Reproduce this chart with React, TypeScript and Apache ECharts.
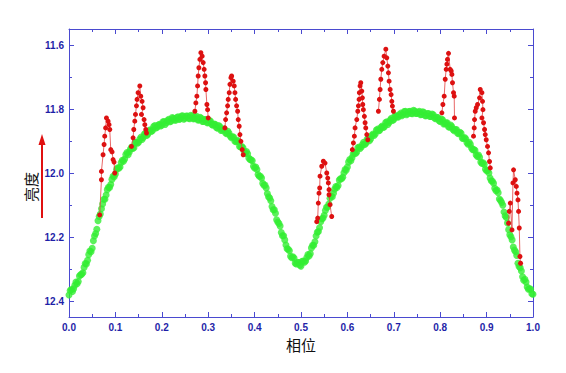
import React, { useEffect, useRef } from "react";
import * as echarts from "echarts";

const X_MIN = 0;
const X_MAX = 1;
const Y_MIN = 11.55;
const Y_MAX = 12.45;
const Y_MAJOR = [11.6, 11.8, 12.0, 12.2, 12.4];
const Y_MINOR = [11.7, 11.9, 12.1, 12.3];
const X_LABEL = "相位";
const Y_LABEL = "亮度";

// Quiescent light curve (green), phase / magnitude — first set of nights
const GREEN_A: [number, number][] = [
  [0.000, 12.381], [0.005, 12.364], [0.010, 12.362], [0.015, 12.341], [0.020, 12.339],
  [0.025, 12.318], [0.030, 12.312], [0.035, 12.283], [0.040, 12.273], [0.045, 12.244],
  [0.050, 12.235], [0.055, 12.197], [0.060, 12.176], [0.065, 12.136], [0.070, 12.112],
  [0.075, 12.082], [0.080, 12.069], [0.085, 12.045], [0.090, 12.036], [0.095, 12.010],
  [0.100, 12.003], [0.105, 11.984], [0.110, 11.981], [0.115, 11.960], [0.120, 11.956],
  [0.125, 11.936], [0.130, 11.934], [0.135, 11.919], [0.140, 11.921], [0.145, 11.904],
  [0.150, 11.904], [0.155, 11.888], [0.160, 11.889], [0.165, 11.876], [0.170, 11.879],
  [0.175, 11.865], [0.180, 11.867], [0.185, 11.852], [0.190, 11.857], [0.195, 11.848],
  [0.200, 11.851], [0.205, 11.839], [0.210, 11.843], [0.215, 11.832], [0.220, 11.838],
  [0.225, 11.829], [0.230, 11.835], [0.235, 11.824], [0.240, 11.830], [0.245, 11.821],
  [0.250, 11.829], [0.255, 11.822], [0.260, 11.830], [0.265, 11.822], [0.270, 11.830],
  [0.275, 11.823], [0.280, 11.834], [0.285, 11.829], [0.290, 11.839], [0.295, 11.833],
  [0.300, 11.843], [0.305, 11.838], [0.310, 11.851], [0.315, 11.848], [0.320, 11.860],
  [0.325, 11.855], [0.330, 11.866], [0.335, 11.863], [0.340, 11.877], [0.345, 11.876],
  [0.350, 11.890], [0.355, 11.888], [0.360, 11.902], [0.365, 11.902], [0.370, 11.919],
  [0.375, 11.921], [0.380, 11.939], [0.385, 11.940], [0.390, 11.958], [0.395, 11.962],
  [0.400, 11.984], [0.405, 11.989], [0.410, 12.010], [0.415, 12.016], [0.420, 12.038],
  [0.425, 12.047], [0.430, 12.074], [0.435, 12.087], [0.440, 12.115], [0.445, 12.126],
  [0.450, 12.153], [0.455, 12.166], [0.460, 12.196], [0.465, 12.209], [0.470, 12.237],
  [0.475, 12.243], [0.480, 12.265], [0.485, 12.266], [0.490, 12.284], [0.495, 12.280],
  [0.500, 12.291], [0.505, 12.275], [0.510, 12.275], [0.515, 12.255], [0.520, 12.252],
  [0.525, 12.226], [0.530, 12.215], [0.535, 12.185], [0.540, 12.171], [0.545, 12.143],
  [0.550, 12.132], [0.555, 12.107], [0.560, 12.097], [0.565, 12.072], [0.570, 12.063],
  [0.575, 12.042], [0.580, 12.039], [0.585, 12.018], [0.590, 12.013], [0.595, 11.989],
  [0.600, 11.981], [0.605, 11.958], [0.610, 11.952], [0.615, 11.936], [0.620, 11.935],
  [0.625, 11.919], [0.630, 11.919], [0.635, 11.904], [0.640, 11.907], [0.645, 11.893],
  [0.650, 11.894], [0.655, 11.878], [0.660, 11.878], [0.665, 11.863], [0.670, 11.866],
  [0.675, 11.853], [0.680, 11.855], [0.685, 11.840], [0.690, 11.842], [0.695, 11.829],
  [0.700, 11.833], [0.705, 11.821], [0.710, 11.825], [0.715, 11.813], [0.720, 11.817],
  [0.725, 11.807], [0.730, 11.815], [0.735, 11.807], [0.740, 11.815], [0.745, 11.806],
  [0.750, 11.814], [0.755, 11.807], [0.760, 11.817], [0.765, 11.811], [0.770, 11.821],
  [0.775, 11.814], [0.780, 11.823], [0.785, 11.818], [0.790, 11.830], [0.795, 11.827],
  [0.800, 11.839], [0.805, 11.834], [0.810, 11.846], [0.815, 11.843], [0.820, 11.857],
  [0.825, 11.855], [0.830, 11.868], [0.835, 11.864], [0.840, 11.877], [0.845, 11.876],
  [0.850, 11.892], [0.855, 11.893], [0.860, 11.910], [0.865, 11.910], [0.870, 11.927],
  [0.875, 11.929], [0.880, 11.948], [0.885, 11.951], [0.890, 11.970], [0.895, 11.973],
  [0.900, 11.993], [0.905, 12.000], [0.910, 12.024], [0.915, 12.032], [0.920, 12.055],
  [0.925, 12.062], [0.930, 12.086], [0.935, 12.101], [0.940, 12.134], [0.945, 12.156],
  [0.950, 12.193], [0.955, 12.209], [0.960, 12.241], [0.965, 12.258], [0.970, 12.292],
  [0.975, 12.306], [0.980, 12.335], [0.985, 12.341], [0.990, 12.363], [0.995, 12.363],
  [1.000, 12.379],
];

// Quiescent light curve (green) — second set of nights
const GREEN_B: [number, number][] = [
  [0.0025, 12.367], [0.0075, 12.370], [0.0125, 12.351], [0.0175, 12.346], [0.0225, 12.322],
  [0.0275, 12.316], [0.0325, 12.295], [0.0375, 12.284], [0.0425, 12.255], [0.0475, 12.246],
  [0.0525, 12.212], [0.0575, 12.189], [0.0625, 12.149], [0.0675, 12.128], [0.0725, 12.097],
  [0.0775, 12.082], [0.0825, 12.052], [0.0875, 12.045], [0.0925, 12.020], [0.0975, 12.012],
  [0.1025, 11.988], [0.1075, 11.985], [0.1125, 11.967], [0.1175, 11.963], [0.1225, 11.942],
  [0.1275, 11.943], [0.1325, 11.925], [0.1375, 11.923], [0.1425, 11.905], [0.1475, 11.907],
  [0.1525, 11.895], [0.1575, 11.895], [0.1625, 11.878], [0.1675, 11.883], [0.1725, 11.868],
  [0.1775, 11.870], [0.1825, 11.855], [0.1875, 11.859], [0.1925, 11.850], [0.1975, 11.853],
  [0.2025, 11.840], [0.2075, 11.848], [0.2125, 11.836], [0.2175, 11.840], [0.2225, 11.827],
  [0.2275, 11.834], [0.2325, 11.827], [0.2375, 11.833], [0.2425, 11.822], [0.2475, 11.832],
  [0.2525, 11.822], [0.2575, 11.829], [0.2625, 11.820], [0.2675, 11.830], [0.2725, 11.826],
  [0.2775, 11.834], [0.2825, 11.826], [0.2875, 11.839], [0.2925, 11.833], [0.2975, 11.843],
  [0.3025, 11.836], [0.3075, 11.848], [0.3125, 11.847], [0.3175, 11.858], [0.3225, 11.852],
  [0.3275, 11.867], [0.3325, 11.863], [0.3375, 11.875], [0.3425, 11.870], [0.3475, 11.885],
  [0.3525, 11.887], [0.3575, 11.901], [0.3625, 11.898], [0.3675, 11.917], [0.3725, 11.917],
  [0.3775, 11.933], [0.3825, 11.933], [0.3875, 11.953], [0.3925, 11.959], [0.3975, 11.979],
  [0.4025, 11.981], [0.4075, 12.005], [0.4125, 12.010], [0.4175, 12.032], [0.4225, 12.038],
  [0.4275, 12.064], [0.4325, 12.078], [0.4375, 12.105], [0.4425, 12.115], [0.4475, 12.146],
  [0.4525, 12.158], [0.4575, 12.186], [0.4625, 12.196], [0.4675, 12.225], [0.4725, 12.238],
  [0.4775, 12.260], [0.4825, 12.262], [0.4875, 12.282], [0.4925, 12.279], [0.4975, 12.288],
  [0.5025, 12.276], [0.5075, 12.279], [0.5125, 12.264], [0.5175, 12.259], [0.5225, 12.234],
  [0.5275, 12.226], [0.5325, 12.197], [0.5375, 12.183], [0.5425, 12.152], [0.5475, 12.141],
  [0.5525, 12.117], [0.5575, 12.106], [0.5625, 12.079], [0.5675, 12.074], [0.5725, 12.051],
  [0.5775, 12.045], [0.5825, 12.022], [0.5875, 12.018], [0.5925, 11.999], [0.5975, 11.991],
  [0.6025, 11.966], [0.6075, 11.962], [0.6125, 11.941], [0.6175, 11.939], [0.6225, 11.921],
  [0.6275, 11.923], [0.6325, 11.911], [0.6375, 11.911], [0.6425, 11.895], [0.6475, 11.899],
  [0.6525, 11.883], [0.6575, 11.883], [0.6625, 11.866], [0.6675, 11.868], [0.6725, 11.857],
  [0.6775, 11.858], [0.6825, 11.842], [0.6875, 11.848], [0.6925, 11.834], [0.6975, 11.836],
  [0.7025, 11.821], [0.7075, 11.825], [0.7125, 11.817], [0.7175, 11.821], [0.7225, 11.808],
  [0.7275, 11.818], [0.7325, 11.808], [0.7375, 11.814], [0.7425, 11.804], [0.7475, 11.814],
  [0.7525, 11.810], [0.7575, 11.818], [0.7625, 11.809], [0.7675, 11.821], [0.7725, 11.814],
  [0.7775, 11.823], [0.7825, 11.816], [0.7875, 11.828], [0.7925, 11.826], [0.7975, 11.837],
  [0.8025, 11.831], [0.8075, 11.847], [0.8125, 11.843], [0.8175, 11.855], [0.8225, 11.850],
  [0.8275, 11.864], [0.8325, 11.864], [0.8375, 11.876], [0.8425, 11.873], [0.8475, 11.891],
  [0.8525, 11.889], [0.8575, 11.905], [0.8625, 11.904], [0.8675, 11.922], [0.8725, 11.927],
  [0.8775, 11.944], [0.8825, 11.944], [0.8875, 11.966], [0.8925, 11.968], [0.8975, 11.988],
  [0.9025, 11.992], [0.9075, 12.016], [0.9125, 12.026], [0.9175, 12.048], [0.9225, 12.053],
  [0.9275, 12.081], [0.9325, 12.092], [0.9375, 12.122], [0.9425, 12.139], [0.9475, 12.177],
  [0.9525, 12.199], [0.9575, 12.231], [0.9625, 12.246], [0.9675, 12.282], [0.9725, 12.296],
  [0.9775, 12.324], [0.9825, 12.332], [0.9875, 12.356], [0.9925, 12.362], [0.9975, 12.377],
];

// Flare events (red), each one a connected run of points
const FLARE_1: [number, number][] = [
  [0.0662, 12.131], [0.0699, 12.021], [0.0699, 11.995], [0.0734, 11.943], [0.0756, 11.911],
  [0.077, 11.885], [0.079, 11.859], [0.0807, 11.828], [0.0842, 11.838], [0.0863, 11.849],
  [0.0878, 11.864], [0.09, 11.927], [0.0928, 11.934], [0.095, 11.958], [0.0971, 11.966],
  [0.0986, 12.0],
];
const FLARE_2: [number, number][] = [
  [0.1346, 11.917], [0.1381, 11.89], [0.1396, 11.864], [0.1418, 11.838], [0.1433, 11.817],
  [0.1454, 11.79], [0.1467, 11.77], [0.1489, 11.749], [0.1526, 11.728], [0.1547, 11.76],
  [0.1575, 11.776], [0.1597, 11.796], [0.1562, 11.817], [0.1618, 11.833], [0.1634, 11.849],
  [0.1655, 11.864], [0.167, 11.875],
];
const FLARE_3: [number, number][] = [
  [0.2713, 11.807], [0.2734, 11.781], [0.2756, 11.76], [0.2771, 11.728], [0.2784, 11.697],
  [0.2799, 11.671], [0.2821, 11.645], [0.2842, 11.624], [0.287, 11.635], [0.2892, 11.655],
  [0.2913, 11.676], [0.2928, 11.697], [0.2943, 11.718], [0.295, 11.739], [0.2972, 11.786],
  [0.2987, 11.802], [0.3, 11.828],
];
const FLARE_4: [number, number][] = [
  [0.336, 11.859], [0.3375, 11.833], [0.3397, 11.812], [0.3418, 11.79], [0.3431, 11.77],
  [0.3453, 11.749], [0.3468, 11.723], [0.349, 11.702], [0.3505, 11.697], [0.3539, 11.713],
  [0.3561, 11.728], [0.3576, 11.749], [0.3591, 11.77], [0.3612, 11.79], [0.3634, 11.807],
  [0.3647, 11.833], [0.3668, 11.854], [0.3684, 11.88], [0.3705, 11.901], [0.3733, 11.927],
  [0.3755, 11.943],
];
const FLARE_5: [number, number][] = [
  [0.5339, 12.152], [0.536, 12.141], [0.5373, 12.094], [0.5388, 12.063], [0.5403, 12.047],
  [0.541, 12.01], [0.5447, 11.979], [0.5481, 11.963], [0.5518, 11.969], [0.5555, 12.0],
  [0.5576, 12.016], [0.5589, 12.031], [0.5604, 12.052], [0.5604, 12.068], [0.5626, 12.099],
  [0.5662, 12.136],
];
const FLARE_6: [number, number][] = [
  [0.6107, 11.927], [0.6129, 11.906], [0.615, 11.885], [0.6165, 11.859], [0.6202, 11.833],
  [0.6224, 11.807], [0.6237, 11.79], [0.6252, 11.77], [0.6258, 11.749], [0.6273, 11.728],
  [0.6288, 11.718], [0.631, 11.744], [0.6323, 11.765], [0.6331, 11.786], [0.6344, 11.802],
  [0.6366, 11.823], [0.6381, 11.843], [0.6396, 11.859], [0.6418, 11.88], [0.6439, 11.896],
];
const FLARE_7: [number, number][] = [
  [0.6668, 11.807], [0.669, 11.77], [0.6705, 11.739], [0.672, 11.707], [0.6741, 11.676],
  [0.6763, 11.655], [0.6791, 11.635], [0.6828, 11.613], [0.6849, 11.64], [0.6871, 11.666],
  [0.6884, 11.687], [0.6899, 11.713], [0.6921, 11.739], [0.6942, 11.755], [0.6957, 11.776],
  [0.697, 11.791], [0.6992, 11.807],
];
const FLARE_8: [number, number][] = [
  [0.8036, 11.812], [0.8058, 11.786], [0.8086, 11.76], [0.8108, 11.707], [0.8129, 11.676],
  [0.8144, 11.66], [0.8157, 11.645], [0.8179, 11.626], [0.8215, 11.676], [0.8237, 11.681],
  [0.8252, 11.692], [0.8265, 11.718], [0.8287, 11.749], [0.8302, 11.76], [0.8308, 11.828],
];
const FLARE_9: [number, number][] = [
  [0.8718, 11.885], [0.8733, 11.859], [0.874, 11.833], [0.8755, 11.807], [0.8777, 11.796],
  [0.8805, 11.786], [0.8848, 11.765], [0.8863, 11.739], [0.8899, 11.749], [0.8912, 11.776],
  [0.8921, 11.802], [0.8899, 11.828], [0.8934, 11.843], [0.8956, 11.864], [0.8971, 11.88],
  [0.8992, 11.896], [0.902, 11.917], [0.9042, 11.937], [0.9063, 11.964], [0.9079, 11.984],
];
const FLARE_10: [number, number][] = [
  [0.9473, 12.157], [0.9489, 12.12], [0.951, 12.094], [0.9547, 12.178], [0.9568, 12.031],
  [0.9581, 11.99], [0.9618, 12.021], [0.964, 12.042], [0.9655, 12.063], [0.9676, 12.084],
  [0.9689, 12.12], [0.9704, 12.172], [0.9719, 12.261], [0.9732, 12.282],
];

const FLARES = [
  FLARE_1, FLARE_2, FLARE_3, FLARE_4, FLARE_5,
  FLARE_6, FLARE_7, FLARE_8, FLARE_9, FLARE_10,
];

const AXIS_COLOR = "#4a4ad0";
const LABEL_COLOR = "#1f1fa8";
const GREEN_COLOR = "#33ee33";
const RED_COLOR = "#dd1111";
const LABEL_FONT = "'Liberation Sans', Arial, sans-serif";
const CJK_FONT = "'Noto Sans CJK SC', sans-serif";

export default function App() {
  const ref = useRef<HTMLDivElement>(null);

  useEffect(() => {
    if (!ref.current) return;
    const chart = echarts.init(ref.current, undefined, { renderer: "svg" });

    const xBase = (pos: "bottom" | "top", showLabel: boolean) => ({
      type: "value" as const,
      position: pos,
      min: X_MIN,
      max: X_MAX,
      interval: 0.1,
      axisLine: { show: true, onZero: false, lineStyle: { color: AXIS_COLOR, width: 1 } },
      axisTick: { show: true, inside: true, length: 5, lineStyle: { color: AXIS_COLOR } },
      minorTick: { show: true, splitNumber: 2, length: 3, lineStyle: { color: AXIS_COLOR } },
      splitLine: { show: false },
      axisLabel: {
        show: showLabel,
        color: LABEL_COLOR,
        fontWeight: "bold" as const,
        fontSize: 10,
        fontFamily: LABEL_FONT,
        margin: 5,
        formatter: (v: number) => v.toFixed(1),
      },
    });

    const yBase = (
      pos: "left" | "right",
      ticks: number[],
      len: number,
      showLabel: boolean,
      showLine: boolean
    ) => ({
      type: "value" as const,
      position: pos,
      min: Y_MIN,
      max: Y_MAX,
      inverse: true,
      axisLine: { show: showLine, onZero: false, lineStyle: { color: AXIS_COLOR, width: 1 } },
      axisTick: {
        show: true,
        inside: true,
        length: len,
        customValues: ticks,
        lineStyle: { color: AXIS_COLOR },
      },
      splitLine: { show: false },
      axisLabel: {
        show: showLabel,
        customValues: ticks,
        color: LABEL_COLOR,
        fontWeight: "bold" as const,
        fontSize: 10,
        fontFamily: LABEL_FONT,
        margin: 5,
        formatter: (v: number) => v.toFixed(1),
      },
    });

    const greenSeries = [GREEN_A, GREEN_B].map((d) => ({
      type: "scatter" as const,
      data: d,
      xAxisIndex: 0,
      yAxisIndex: 0,
      symbol: "circle",
      symbolSize: 7,
      large: false,
      itemStyle: { color: GREEN_COLOR },
      z: 2,
      silent: true,
    }));

    const flareSeries = FLARES.map((d) => ({
      type: "line" as const,
      data: d,
      xAxisIndex: 0,
      yAxisIndex: 0,
      symbol: "circle",
      symbolSize: 5,
      showSymbol: true,
      showAllSymbol: true,
      lineStyle: { color: "#e24040", width: 0.8 },
      itemStyle: { color: RED_COLOR },
      z: 3,
      silent: true,
    }));

    chart.setOption({
      animation: false,
      backgroundColor: "#ffffff",
      grid: { left: 69, right: 33, top: 29, bottom: 56, containLabel: false },
      xAxis: [xBase("bottom", true), xBase("top", false)],
      yAxis: [
        yBase("left", Y_MAJOR, 5, true, true),
        yBase("left", Y_MINOR, 3, false, false),
        yBase("right", Y_MAJOR, 5, false, true),
        yBase("right", Y_MINOR, 3, false, false),
      ],
      series: [...greenSeries, ...flareSeries],
      graphic: [
        {
          type: "text",
          x: 301,
          y: 344,
          style: {
            text: X_LABEL,
            fill: "#111111",
            font: `15px ${CJK_FONT}`,
            textAlign: "center",
            textVerticalAlign: "middle",
          },
        },
        {
          type: "text",
          x: 30,
          y: 187,
          rotation: Math.PI / 2,
          style: {
            text: Y_LABEL,
            fill: "#111111",
            font: `15px ${CJK_FONT}`,
            textAlign: "center",
            textVerticalAlign: "middle",
          },
        },
        {
          type: "line",
          shape: { x1: 42, y1: 218, x2: 42, y2: 143 },
          style: { stroke: "#e01010", lineWidth: 2 },
        },
        {
          type: "polygon",
          shape: { points: [[42, 134], [38.5, 145], [45.5, 145]] },
          style: { fill: "#e01010" },
        },
      ],
    });

    return () => chart.dispose();
  }, []);

  return (
    <div
      ref={ref}
      style={{ position: "fixed", left: 0, top: 0, width: 566, height: 373, background: "#fff" }}
    />
  );
}
